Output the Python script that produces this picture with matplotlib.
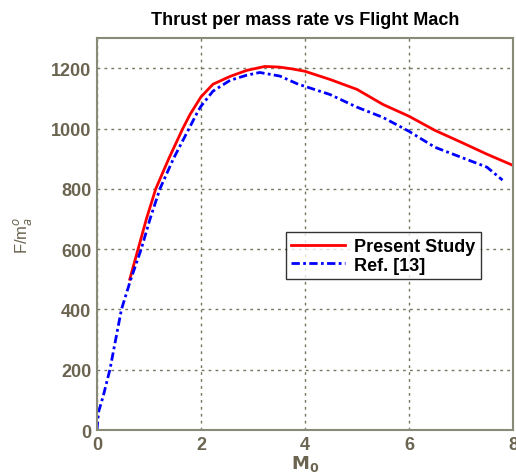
import numpy as np
import matplotlib.pyplot as plt

plt.rcParams['font.family'] = ['Liberation Sans', 'DejaVu Sans']

# thrust per unit air mass flow vs flight Mach number
mach_present = [0.63, 0.79, 0.95, 1.13, 1.38, 1.65, 1.79, 2.0, 2.23, 2.56, 2.88, 3.23, 3.5, 3.75,
                4.0, 4.48, 5.0, 5.5, 6.0, 6.5, 7.0, 7.5, 8.0]
thrust_present = [500, 600, 700, 800, 900, 1000, 1047, 1105, 1147, 1173, 1193, 1206, 1204, 1198,
                  1190, 1163, 1130, 1080, 1041, 994, 955, 915, 878]

mach_ref = [0.0, 0.03, 0.12, 0.25, 0.47, 0.65, 0.85, 1.02, 1.21, 1.47, 1.77, 1.94, 2.0, 2.23,
            2.56, 2.88, 3.13, 3.52, 3.87, 4.0, 4.48, 5.0, 5.5, 6.0, 6.5, 7.0, 7.5, 7.8]
thrust_ref = [0, 60, 113, 202, 400, 500, 600, 700, 800, 900, 1000, 1057, 1074, 1124,
              1160, 1177, 1186, 1174, 1147, 1140, 1113, 1071, 1037, 991, 938, 905, 872, 829]

tick_color = '#6b6450'
grid_color = '#77775f'

fig = plt.figure(figsize=(5.16, 4.77), dpi=100)
ax = fig.add_axes([0.188, 0.0964, 0.806, 0.8216])

ax.plot(mach_present, thrust_present, color='red', lw=2, label='Present Study')
ax.plot(mach_ref, thrust_ref, color='blue', lw=2, ls=(0, (3, 1.2, 1, 1.2)), label='Ref. [13]')

ax.set_xlim(0, 8)
ax.set_ylim(0, 1300)
ax.set_xticks([0, 2, 4, 6, 8])
ax.set_yticks([0, 200, 400, 600, 800, 1000, 1200])
ax.grid(True, ls=(0, (2, 3)), color=grid_color, lw=1)
ax.tick_params(length=0, labelsize=13, colors=tick_color, pad=4)
for lbl in ax.get_xticklabels() + ax.get_yticklabels():
    lbl.set_fontweight('bold')
for sp in ax.spines.values():
    sp.set_color('#8a8a78')
    sp.set_linewidth(1.5)

ax.set_title('Thrust per mass rate vs Flight Mach', fontsize=13, fontweight='bold', pad=10)
ax.set_xlabel(r'$\mathbf{M_0}$', fontsize=13, color=tick_color, labelpad=0)
ax.set_ylabel(r'F/m$^o_a$', fontsize=12, color=tick_color, labelpad=12)

leg = ax.legend(loc='lower left', bbox_to_anchor=(0.454, 0.385), fontsize=13,
                frameon=True, fancybox=False, borderpad=0.3, handlelength=3.0,
                labelspacing=0.1, borderaxespad=0, handletextpad=0.5)
leg.get_frame().set_edgecolor('black')
leg.get_frame().set_linewidth(1)
for t in leg.get_texts():
    t.set_fontweight('bold')

fig.savefig('out.png', dpi=100)
